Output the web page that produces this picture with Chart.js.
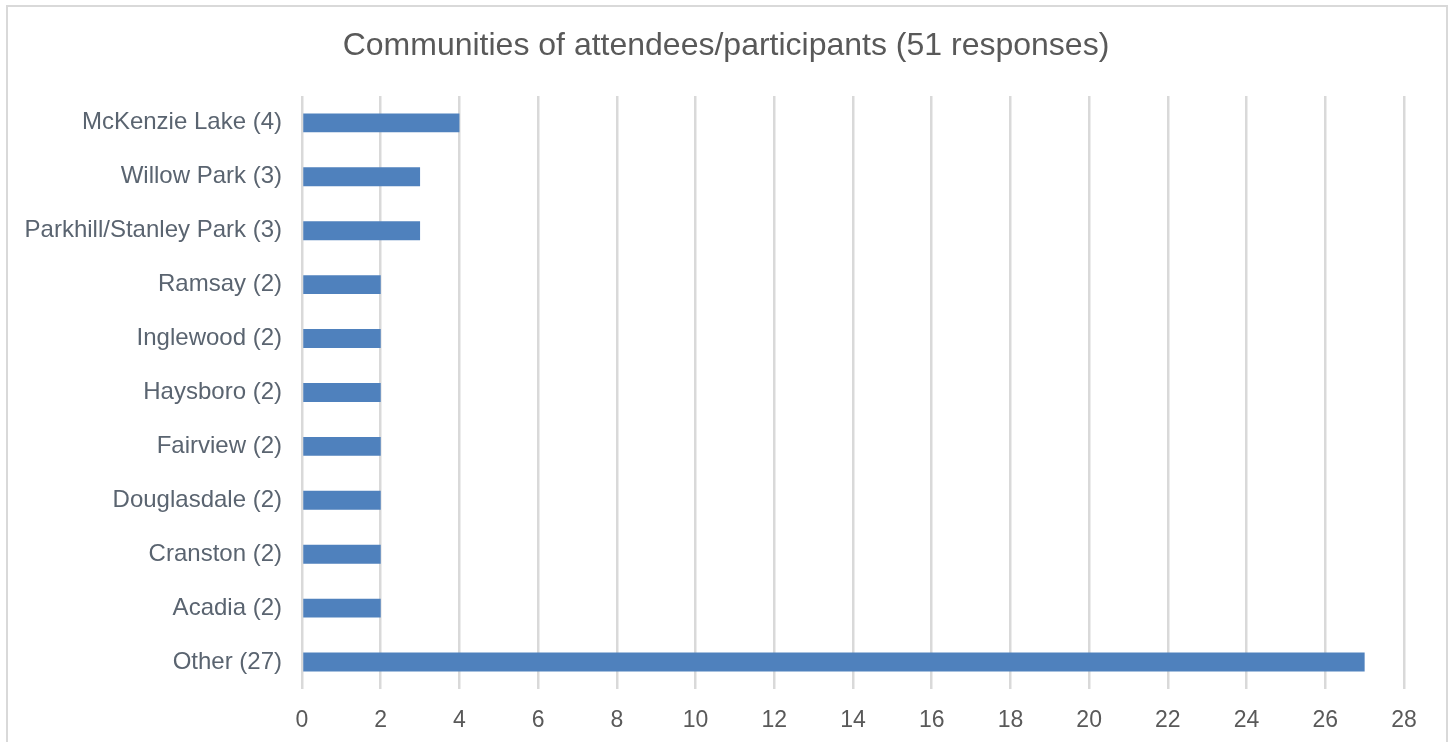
<!DOCTYPE html>
<html>
<head>
<meta charset="utf-8">
<script src="https://cdn.jsdelivr.net/npm/chart.js@4"></script>
<style>
  html, body { margin: 0; padding: 0; background: #fff; }
  #wrap { position: relative; width: 1452px; height: 742px; }
</style>
</head>
<body>
<div id="wrap"><canvas id="chart" width="1452" height="742"></canvas></div>
<script>
// survey answers, top to bottom
const communities = [
  "McKenzie Lake", "Willow Park", "Parkhill/Stanley Park", "Ramsay", "Inglewood",
  "Haysboro", "Fairview", "Douglasdale", "Cranston", "Acadia", "Other"
];
const responses = [4, 3, 3, 2, 2, 2, 2, 2, 2, 2, 27];
const axisMax = 28;
const axisStep = 2;

const labels = communities.map((c, i) => c + " (" + responses[i] + ")");

const GREY = "#595959";
const LABEL = "#5a6470";
const GRID = "#d9d9d9";
const FONT = "Liberation Sans, Arial, sans-serif";

// light frame round the whole chart
const frame = {
  id: "frame",
  beforeDraw(chart) {
    const ctx = chart.ctx;
    ctx.save();
    ctx.strokeStyle = GRID;
    ctx.lineWidth = 2;
    ctx.strokeRect(7, 6, 1440, 800);
    ctx.restore();
  }
};

new Chart(document.getElementById("chart"), {
  type: "bar",
  data: {
    labels: labels,
    datasets: [{
      data: responses,
      backgroundColor: "#4f81bd",
      barPercentage: 0.35,
      categoryPercentage: 1
    }]
  },
  plugins: [frame],
  options: {
    indexAxis: "y",
    responsive: false,
    animation: false,
    layout: { padding: 0 },
    plugins: {
      legend: { display: false },
      tooltip: { enabled: false },
      title: {
        display: true,
        text: "Communities of attendees/participants (51 responses)",
        color: GREY,
        font: { family: FONT, size: 32, weight: "normal" },
        padding: { top: 27, bottom: 30.5 }
      }
    },
    scales: {
      x: {
        min: 0,
        max: axisMax,
        afterFit(scale) { scale.height = 53; },
        ticks: {
          stepSize: axisStep,
          color: GREY,
          padding: 18,
          font: { family: FONT, size: 23 }
        },
        grid: { color: GRID, lineWidth: 2.5, drawTicks: false },
        border: { display: false }
      },
      y: {
        afterFit(scale) { scale.width = 302; },
        ticks: {
          color: LABEL,
          padding: 20,
          font: { family: FONT, size: 24 }
        },
        grid: { display: false, drawTicks: false },
        border: { display: false }
      },
      // empty strip on the right so the title stays centred on the canvas
      spacer: {
        type: "linear",
        axis: "y",
        position: "right",
        afterFit(scale) { scale.width = 48; },
        ticks: { display: false },
        grid: { display: false, drawTicks: false },
        border: { display: false }
      }
    }
  }
});
</script>
</body>
</html>
